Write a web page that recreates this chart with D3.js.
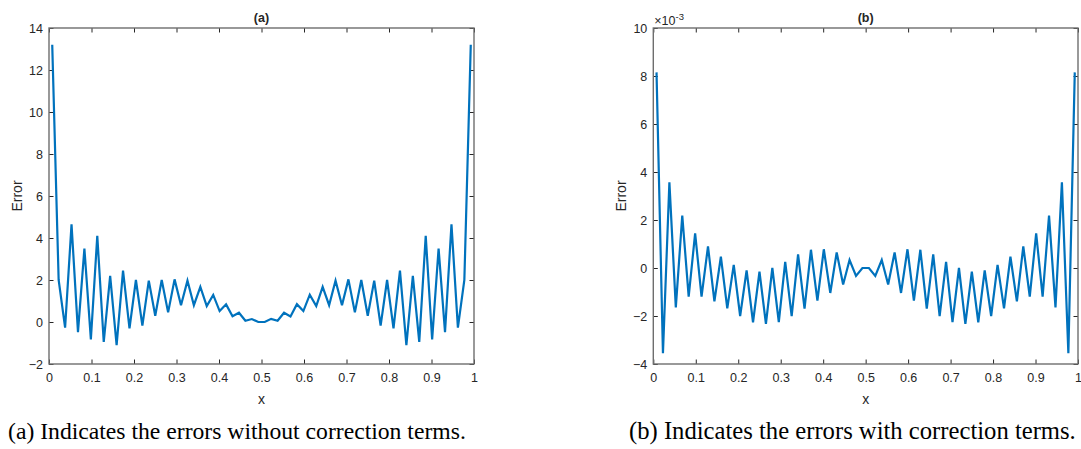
<!DOCTYPE html>
<html>
<head>
<meta charset="utf-8">
<script src="https://cdn.jsdelivr.net/npm/d3@7"></script>
<style>
    body { margin: 0; background: #fff; }
    svg { display: block; }
    .axis text { font-family: "Liberation Sans", Arial, sans-serif; fill: #262626; }
    .axis line { stroke: #262626; }
    .label { font-family: "Liberation Sans", Arial, sans-serif; fill: #262626; }
    .caption { font-family: "Liberation Serif", "DejaVu Serif", serif; fill: #000; }
</style>
</head>
<body>
<div id="chart"></div>
<script>

// grid points (cell midpoints on [0,1])
const xGrid = [
    0.0076, 0.0227, 0.0379, 0.0530, 0.0682, 0.0833, 0.0985, 0.1136, 0.1288, 0.1439,
    0.1591, 0.1742, 0.1894, 0.2045, 0.2197, 0.2348, 0.2500, 0.2652, 0.2803, 0.2955,
    0.3106, 0.3258, 0.3409, 0.3561, 0.3712, 0.3864, 0.4015, 0.4167, 0.4318, 0.4470,
    0.4621, 0.4773, 0.4924, 0.5076, 0.5227, 0.5379, 0.5530, 0.5682, 0.5833, 0.5985,
    0.6136, 0.6288, 0.6439, 0.6591, 0.6742, 0.6894, 0.7045, 0.7197, 0.7348, 0.7500,
    0.7652, 0.7803, 0.7955, 0.8106, 0.8258, 0.8409, 0.8561, 0.8712, 0.8864, 0.9015,
    0.9167, 0.9318, 0.9470, 0.9621, 0.9773, 0.9924
];

// (a) errors without correction terms
const errorsA = [
    13.2, 2.0, -0.27, 4.65, -0.48, 3.5, -0.83, 4.1, -0.95, 2.2,
    -1.1, 2.45, -0.3, 2.0, -0.17, 1.97, 0.3, 2.0, 0.46, 2.03,
    0.8, 1.97, 0.8, 1.67, 0.76, 1.29, 0.52, 0.84, 0.27, 0.44,
    0.06, 0.14, 0.0, 0.0, 0.15, 0.06, 0.44, 0.26, 0.85, 0.52,
    1.3, 0.76, 1.67, 0.8, 1.97, 0.8, 2.03, 0.46, 2.0, 0.3,
    1.97, -0.17, 2.0, -0.3, 2.45, -1.1, 2.2, -0.95, 4.1, -0.83,
    3.5, -0.48, 4.65, -0.27, 2.0, 13.2
];

// (b) errors with correction terms, in units of 1e-3
const errorsB = [
    8.15, -3.55, 3.57, -1.64, 2.18, -1.19, 1.44, -1.19, 0.9, -1.39,
    0.47, -1.68, 0.13, -2.0, -0.1, -2.26, -0.15, -2.33, 0.0, -2.26,
    0.26, -2.01, 0.57, -1.69, 0.76, -1.36, 0.78, -1.04, 0.65, -0.69,
    0.33, -0.33, 0.0, 0.0, -0.33, 0.33, -0.69, 0.65, -1.04, 0.78,
    -1.36, 0.76, -1.69, 0.57, -2.01, 0.26, -2.26, 0.0, -2.33, -0.15,
    -2.26, -0.1, -2.0, 0.13, -1.68, 0.47, -1.39, 0.9, -1.19, 1.44,
    -1.19, 2.18, -1.64, 3.57, -3.55, 8.15
];

const xTicks = [0, 0.1, 0.2, 0.3, 0.4, 0.5, 0.6, 0.7, 0.8, 0.9, 1];
const yTicksA = [-2, 0, 2, 4, 6, 8, 10, 12, 14];
const yTicksB = [-4, -2, 0, 2, 4, 6, 8, 10];

const captions = [
    "(a) Indicates the errors without correction terms.",
    "(b) Indicates the errors with correction terms."
];


class ErrorPanel {

    constructor(svg, cfg) {
        this.svg = svg;
        this.cfg = cfg;
        this.initVis();
    }

    initVis() {
        let vis = this;
        let c = vis.cfg;

        vis.width = c.width;
        vis.height = c.height;

        vis.g = vis.svg.append("g")
            .attr("transform", "translate(" + c.left + "," + c.top + ")");

        vis.x = d3.scaleLinear().domain([0, 1]).range([0, vis.width]);
        vis.y = d3.scaleLinear().domain(c.yDomain).range([vis.height, 0]);

        // MATLAB-style ticks, pointing inwards
        let fmtX = d => d3.format("~g")(d);

        vis.g.append("g")
            .attr("class", "axis")
            .attr("transform", "translate(0," + vis.height + ")")
            .call(d3.axisBottom(vis.x).tickValues(xTicks).tickFormat(fmtX)
                .tickSizeInner(-4.5).tickSizeOuter(0).tickPadding(9));

        vis.g.append("g")
            .attr("class", "axis")
            .call(d3.axisTop(vis.x).tickValues(xTicks).tickFormat("")
                .tickSizeInner(-4.5).tickSizeOuter(0));

        vis.g.append("g")
            .attr("class", "axis")
            .call(d3.axisLeft(vis.y).tickValues(c.yTicks).tickFormat(d3.format("d"))
                .tickSizeInner(-4.5).tickSizeOuter(0).tickPadding(6));

        vis.g.append("g")
            .attr("class", "axis")
            .attr("transform", "translate(" + vis.width + ",0)")
            .call(d3.axisRight(vis.y).tickValues(c.yTicks).tickFormat("")
                .tickSizeInner(-4.5).tickSizeOuter(0));

        vis.g.selectAll(".axis .domain").remove();
        vis.g.selectAll(".axis text")
            .attr("font-family", null)
            .attr("font-size", null)
            .style("font-size", "12.5px");

        // box
        vis.g.append("rect")
            .attr("width", vis.width)
            .attr("height", vis.height)
            .attr("fill", "none")
            .attr("stroke", "#6e6e6e")
            .attr("stroke-width", 1.4);

        // data line
        let line = d3.line()
            .x((d, i) => vis.x(xGrid[i]))
            .y(d => vis.y(d));

        vis.g.append("path")
            .datum(c.values)
            .attr("fill", "none")
            .attr("stroke", "#0072BD")
            .attr("stroke-width", 2.2)
            .attr("stroke-linejoin", "miter")
            .attr("stroke-miterlimit", 4)
            .attr("d", line);

        // title
        vis.g.append("text")
            .attr("class", "label")
            .attr("x", vis.width / 2)
            .attr("y", -6)
            .attr("text-anchor", "middle")
            .style("font-size", "12.5px")
            .style("font-weight", "bold")
            .text(c.title);

        // axis labels
        vis.g.append("text")
            .attr("class", "label")
            .attr("x", vis.width / 2)
            .attr("y", vis.height + 40)
            .attr("text-anchor", "middle")
            .style("font-size", "14px")
            .text("x");

        vis.g.append("text")
            .attr("class", "label")
            .attr("transform", "translate(" + c.yLabelX + "," + vis.height / 2 + ") rotate(-90)")
            .attr("text-anchor", "middle")
            .attr("dy", "0.35em")
            .style("font-size", "14px")
            .text("Error");

        if (c.exponent) {
            let t = vis.g.append("text")
                .attr("class", "label")
                .attr("x", 1)
                .attr("y", -3)
                .style("font-size", "12.5px");
            t.append("tspan").text("\u00d710");
            t.append("tspan")
                .attr("dy", -5)
                .style("font-size", "9.5px")
                .text(c.exponent);
        }
    }
}


let svg = d3.select("#chart").append("svg")
    .attr("width", 1081)
    .attr("height", 449);

new ErrorPanel(svg, {
    left: 49, top: 28, width: 425, height: 336,
    yDomain: [-2, 14], yTicks: yTicksA, values: errorsA,
    title: "(a)", yLabelX: -32
});

new ErrorPanel(svg, {
    left: 653.3, top: 28, width: 424.7, height: 336,
    yDomain: [-4, 10], yTicks: yTicksB, values: errorsB,
    title: "(b)", yLabelX: -32, exponent: "-3"
});

// captions, fitted to the widths measured on the page
let capPos = [{x: 8, w: 458}, {x: 629, w: 447}];
captions.forEach((txt, i) => {
    let t = svg.append("text")
        .attr("class", "caption")
        .attr("x", capPos[i].x)
        .attr("y", 439)
        .style("font-size", "18px")
        .text(txt);
    let len = t.node().getComputedTextLength();
    t.style("font-size", (18 * capPos[i].w / len).toFixed(2) + "px");
});

</script>
</body>
</html>
